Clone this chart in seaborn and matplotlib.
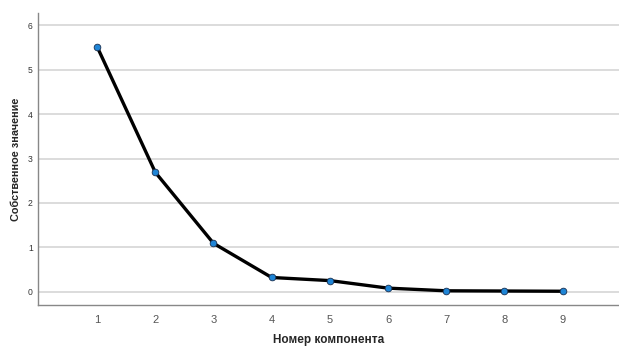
import matplotlib
matplotlib.use("Agg")
import matplotlib.pyplot as plt
import seaborn as sns
import pandas as pd

components = [1, 2, 3, 4, 5, 6, 7, 8, 9]
eigenvalues = [5.52, 2.69, 1.09, 0.32, 0.25, 0.08, 0.02, 0.015, 0.01]
y_ticks = [0, 1, 2, 3, 4, 5, 6]

df = pd.DataFrame({"comp": components, "eig": eigenvalues})

sns.set_style("white")
plt.rcParams["font.family"] = ["Liberation Sans", "DejaVu Sans"]

fig = plt.figure(figsize=(6.19, 3.46), dpi=100)
ax = fig.add_axes([0.062, 0.1185, 0.938, 0.8439])

for t in y_ticks:
    ax.axhline(t, color="#d9d9d9", lw=1.3, zorder=0)

sns.lineplot(data=df, x="comp", y="eig", ax=ax, color="black", lw=2.4,
             marker="o", markersize=4.8, markerfacecolor="#1f85d6",
             markeredgecolor="#1a3050", markeredgewidth=0.6, zorder=3)

ax.set_xlim(-0.01, 9.97)
ax.set_ylim(-0.3, 6.28)
ax.set_xticks(components)
ax.set_yticks(y_ticks)
ax.tick_params(axis="x", length=0, pad=7.5, labelsize=8, labelcolor="#555555")
ax.tick_params(axis="y", length=0, pad=4, labelsize=6.2, labelcolor="#333333")

for s in ["top", "right"]:
    ax.spines[s].set_visible(False)
for s in ["left", "bottom"]:
    ax.spines[s].set_color("#888888")
    ax.spines[s].set_linewidth(1.0)

ax.set_xlabel("Номер компонента", fontsize=8.5, fontweight="bold", labelpad=6)
ax.set_ylabel("Собственное значение", fontsize=7.8, fontweight="bold", labelpad=5)

fig.savefig("out.png", dpi=100)
